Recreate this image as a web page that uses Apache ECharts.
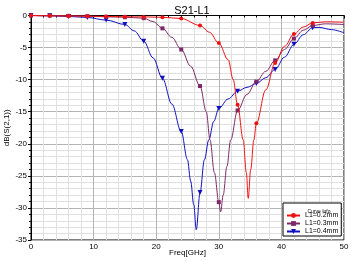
<!DOCTYPE html>
<html><head><meta charset="utf-8">
<script src="https://cdn.jsdelivr.net/npm/echarts@6/dist/echarts.min.js"></script>
<style>html,body{margin:0;padding:0;background:#fff}#c{width:352px;height:261px}</style>
</head><body><div id="c"></div>
<script>
const names = ['L1=0.2mm', 'L1=0.3mm', 'L1=0.4mm'];
const xTicks = [0, 10, 20, 30, 40, 50];
const yTicks = [0, -5, -10, -15, -20, -25, -30, -35];

const freqRed = [0, 3, 6, 9, 12, 15, 18, 21, 24, 27, 28.5, 30, 31.5, 32.3, 33, 33.9, 34.4, 34.7, 35.1, 35.6, 36, 37.5, 39, 40.5, 42, 43.5, 45, 47, 50];
const s21Red  = [0, -0.05, -0.08, -0.1, -0.15, -0.2, -0.22, -0.28, -0.47, -1.56, -2.6, -4.3, -6.9, -10, -13.9, -19.4, -24.5, -28.5, -24, -19.4, -16.8, -11.6, -7.4, -4.8, -2.9, -1.8, -1.15, -0.98, -1.05];

const freqPur = [0, 3, 6, 9, 12, 15, 18, 19.5, 21, 22.5, 24, 25.5, 27, 28, 28.6, 29.3, 30, 30.3, 30.7, 31.3, 31.9, 33, 34.5, 36, 37.5, 39, 40.5, 42, 43.5, 45, 47, 50];
const s21Pur  = [0, -0.02, -0.05, -0.1, -0.2, -0.27, -0.42, -0.95, -2.0, -3.4, -5.3, -7.9, -11.0, -15, -19.4, -24.5, -29.1, -30.6, -28, -23.5, -19.4, -14.8, -12.3, -10.3, -8.7, -7.0, -5.3, -3.6, -2.3, -1.56, -1.3, -1.4];

const freqBlu = [0, 3, 6, 9, 12, 15, 16.5, 18, 19.5, 21, 22.5, 24, 25, 25.5, 26, 26.4, 27, 27.7, 28.4, 29.2, 30, 31.5, 33, 34.5, 36, 37.5, 39, 40.5, 42, 43.5, 45, 46, 48, 50];
const s21Blu  = [0, -0.05, -0.15, -0.3, -0.72, -1.4, -2.4, -4.0, -6.6, -9.8, -13.8, -18.1, -22.5, -25.8, -29.5, -33.4, -27.6, -22.5, -19.4, -16.5, -14.5, -13.0, -11.8, -11.2, -10.6, -9.7, -8.4, -6.5, -4.5, -3.0, -1.9, -1.85, -2.2, -2.7];

const colors = ['#ee1111', '#7f2868', '#1010c0'];
const symbols = ['circle', 'rect', 'triangle'];
const symSizes = [4, 4, 5];

function pairs(xs, ys) { return xs.map((x, i) => [x, ys[i]]); }

const chart = echarts.init(document.getElementById('c'), null, {renderer: 'canvas'});
const dataSets = [pairs(freqRed, s21Red), pairs(freqPur, s21Pur), pairs(freqBlu, s21Blu)];
const order = [2, 1, 0];
const series = order.map(i => ({
  name: names[i],
  type: 'line',
  data: dataSets[i],
  smooth: 0.35,
  smoothMonotone: 'x',
  showAllSymbol: true,
  symbol: symbols[i],
  symbolRotate: i === 2 ? 180 : 0,
  symbolSize: function (v) {
    const x = v[0];
    return (Number.isInteger(x) && x % 3 === 0 && x <= 45) ? symSizes[i] : 0;
  },
  lineStyle: {color: colors[i], width: 1},
  itemStyle: {color: colors[i]},
  z: 3 - i,
  animation: false
}));

chart.setOption({
  animation: false,
  title: [
    {text: 'S21-L1', left: 187, top: 0, textAlign: 'center',
     textStyle: {fontFamily: 'Liberation Sans', fontSize: 11, fontWeight: 'normal', color: '#000'}},
    {text: 'Curve Info', left: 314, top: 204, textAlign: 'center',
     textStyle: {fontFamily: 'Liberation Sans', fontSize: 5, fontWeight: 'normal', color: '#000'}}
  ],
  legend: {
    data: names,
    orient: 'vertical',
    left: 283, top: 203,
    padding: [9, 3, 1, 3],
    itemGap: 1,
    itemWidth: 13, itemHeight: 6,
    borderColor: '#000', borderWidth: 1,
    backgroundColor: '#fff',
    textStyle: {fontFamily: 'Liberation Sans', fontSize: 7, color: '#000'}
  },
  grid: {left: 31, right: 8, top: 15.5, bottom: 21, show: true, borderColor: '#000', borderWidth: 1,
         containLabel: false, outerBoundsMode: 'none'},
  xAxis: {
    type: 'value', min: 0, max: 50, interval: 10,
    name: 'Freq[GHz]', nameLocation: 'middle', nameGap: 9, nameMoveOverlap: false,
    nameTextStyle: {fontFamily: 'Liberation Sans', fontSize: 8, color: '#000'},
    axisLine: {lineStyle: {color: '#000', width: 1}},
    axisTick: {show: true, length: 3, lineStyle: {color: '#000'}},
    minorTick: {show: true, splitNumber: 5, length: 2, lineStyle: {color: '#000'}},
    axisLabel: {fontFamily: 'Liberation Sans', fontSize: 8, color: '#000', margin: 3},
    splitLine: {show: true, lineStyle: {color: '#b4b4b4', width: 1}},
    minorSplitLine: {show: true, lineStyle: {color: '#e0e0e0', width: 1}}
  },
  yAxis: {
    type: 'value', min: -35, max: 0, interval: 5,
    name: 'dB(S(2,1))', nameLocation: 'middle', nameGap: 20, nameRotate: 90, nameMoveOverlap: false,
    nameTextStyle: {fontFamily: 'Liberation Sans', fontSize: 8, color: '#000'},
    axisLine: {show: true, lineStyle: {color: '#000', width: 1}},
    axisTick: {show: true, length: 3, lineStyle: {color: '#000'}},
    minorTick: {show: true, splitNumber: 5, length: 2, lineStyle: {color: '#000'}},
    axisLabel: {fontFamily: 'Liberation Sans', fontSize: 8, color: '#000', margin: 4},
    splitLine: {show: true, lineStyle: {color: '#b4b4b4', width: 1}},
    minorSplitLine: {show: true, lineStyle: {color: '#e0e0e0', width: 1}}
  },
  series: series
});
</script></body></html>
